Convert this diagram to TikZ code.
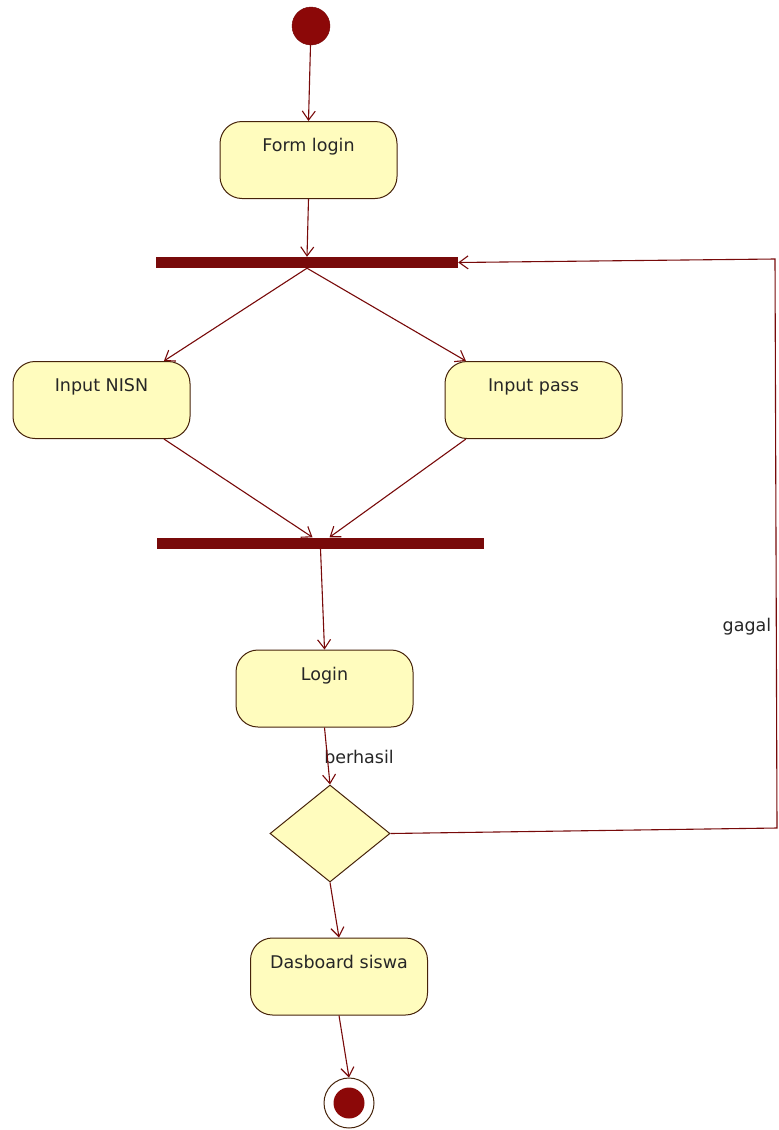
\documentclass[tikz,border=0pt]{standalone}
\usepackage{fontspec}
\setmainfont{DejaVu Sans}
\usetikzlibrary{shapes.geometric,arrows.meta}
\definecolor{garis}{RGB}{120,10,10}
\definecolor{kuning}{RGB}{255,252,190}
\definecolor{tepi}{RGB}{70,35,10}
\begin{document}
\begin{tikzpicture}[x=1pt,y=-1pt,
    font=\fontsize{17.5pt}{19pt}\selectfont,
    aksi/.style={rectangle,rounded corners=22pt,draw=tepi,line width=1pt,fill=kuning,
        minimum width=177pt,inner ysep=0pt,text height=30pt,text depth=47pt,text=black!85},
    palang/.style={rectangle,fill=garis,inner sep=0pt,minimum height=11pt},
    alur/.style={garis,line width=1.1pt,-{Straight Barb[length=9pt,width=13pt]}}]
\useasboundingbox (0,0) rectangle (779,1130);
% start dan aktivitas
\node[circle,fill=garis!85!red,draw=garis,minimum size=38pt,inner sep=0pt] (mulai) at (311,26) {};
\node[aksi] (form)  at (308.5,160) {Form login};
\node[palang,minimum width=302pt] (fork) at (307,262.5) {};
\node[aksi] (nisn)  at (101.5,400) {Input NISN};
\node[aksi] (pass)  at (533.5,400) {Input pass};
\node[palang,minimum width=327pt] (join) at (320.5,543) {};
\node[aksi] (login) at (324.5,688.5) {Login};
\node[diamond,draw=tepi,line width=1pt,fill=kuning,minimum width=120pt,minimum height=97pt,inner sep=0pt] (cek) at (330,833.5) {};
\node[aksi] (dash)  at (339,976.5) {Dasboard siswa};
% akhir
\node[circle,draw=tepi,line width=1pt,minimum size=50pt,inner sep=0pt] (selesai) at (349,1103) {};
\node[circle,fill=garis!85!red,minimum size=31pt,inner sep=0pt] at (selesai) {};
% label
\node[text=black!85] (berhasil) at (359,757) {berhasil};
\node[text=black!85] (gagal) at (747,627) {gagal};
% alur
\draw[alur] (mulai) -- (form.north);
\draw[alur] (form.south) -- (fork.north);
\draw[alur] (fork.south) -- (nisn.32);
\draw[alur] (fork.south) -- (pass.150);
\draw[alur] (nisn.-32) -- ([xshift=-8pt]join.north);
\draw[alur] (pass.-150) -- ([xshift=9pt]join.north);
\draw[alur] (join.south) -- (login.north);
\draw[alur] (login.south) -- (cek.north);
\draw[alur] (cek.south) -- (dash.north);
\draw[alur] (dash.south) -- (selesai.north);
% kembali kalau gagal
\coordinate (g1) at (777,828);
\coordinate (g2) at (775,259);
\draw[alur] (cek.east) -- (g1) -- (g2) -- (fork.east);
\end{tikzpicture}
\end{document}
